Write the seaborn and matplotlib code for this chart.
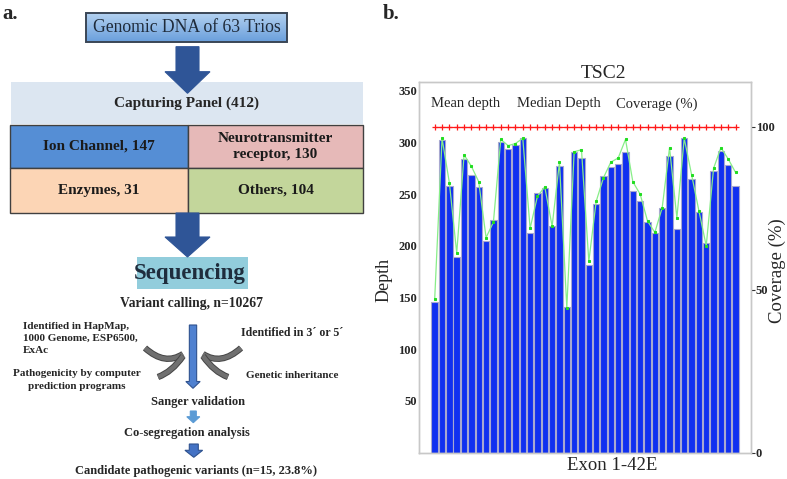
import numpy as np
import pandas as pd
import matplotlib
matplotlib.use("Agg")
import matplotlib.pyplot as plt
import matplotlib.patheffects as pe
from matplotlib.patches import Rectangle, Polygon, PathPatch
from matplotlib.path import Path
from matplotlib.colors import LinearSegmentedColormap
import seaborn as sns

# ---- data for panel b ----
exons = [f"E{i}" for i in range(1, 43)]
mean_depth = [146, 302, 258, 189, 284, 269, 257, 205, 225, 300, 294, 298, 304, 212,
              251, 256, 219, 277, 141, 291, 285, 182, 241, 268, 276, 279, 291, 253,
              243, 223, 212, 237, 287, 216, 304, 265, 233, 203, 272, 292, 278, 258]
median_depth = [149, 304, 261, 193, 288, 277, 262, 208, 223, 303, 297, 299, 304, 217,
                248, 257, 219, 281, 140, 291, 293, 185, 243, 266, 281, 285, 303, 262,
                250, 224, 213, 237, 295, 227, 304, 269, 234, 200, 275, 295, 284, 271]
coverage = [100] * 42
depth_ticks = [50, 100, 150, 200, 250, 300, 350]
coverage_ticks = [0, 50, 100]
legend_labels = ["Mean depth", "Median Depth", "Coverage (%)"]

# ---- text for panel a ----
gene_groups = ["Ion Channel, 147", "Neurotransmitter\nreceptor, 130", "Enzymes, 31", "Others, 104"]
group_colors = ["#558ED5", "#E6B9B8", "#FCD5B5", "#C3D69B"]

sns.set_theme(style="white")
plt.rcParams['font.family'] = ['Liberation Serif', 'DejaVu Serif']

W, H = 787, 479
fig = plt.figure(figsize=(W / 100, H / 100), dpi=100)

# panel a drawn in pixel coordinates on a full-figure axes
axa = fig.add_axes([0, 0, 1, 1])
axa.set_xlim(0, W)
axa.set_ylim(H, 0)
axa.axis("off")


def block_arrow(ax, xc, y0, y1, shaft_w, head_w, head_len, color, edge=None):
    yh = y1 - head_len
    pts = [(xc - shaft_w / 2, y0), (xc + shaft_w / 2, y0), (xc + shaft_w / 2, yh),
           (xc + head_w / 2, yh), (xc, y1), (xc - head_w / 2, yh), (xc - shaft_w / 2, yh)]
    ax.add_patch(Polygon(pts, closed=True, facecolor=color,
                         edgecolor=edge or color, lw=0.8, zorder=4))


def curve(ax, p0, p1, p2):
    path = Path([p0, p1, p2], [Path.MOVETO, Path.CURVE3, Path.CURVE3])
    patch = PathPatch(path, facecolor="none", edgecolor="#707070", lw=3.2,
                      capstyle="butt", zorder=3)
    patch.set_path_effects([pe.Stroke(linewidth=4.6, foreground="#454545"), pe.Normal()])
    ax.add_patch(patch)


axa.text(2, 14, "a.", fontsize=15, fontweight="bold", va="center")
axa.text(383, 14, "b.", fontsize=15, fontweight="bold", va="center")

# top box with gradient
grad = LinearSegmentedColormap.from_list("g", ["#B3D1F0", "#6A9FDC"])
axa.imshow(np.linspace(0, 1, 60).reshape(-1, 1), cmap=grad, aspect="auto",
           extent=[86, 287, 42, 13], zorder=2)
axa.add_patch(Rectangle((86, 13), 201, 29, fill=False, edgecolor="#3A4656", lw=1.4, zorder=3))
axa.text(186.5, 27.5, "Genomic DNA of 63 Trios", fontsize=12.7, color="#1F2B3A",
         ha="center", va="center", zorder=4)

block_arrow(axa, 187.5, 46.7, 93.3, 23, 45, 21.6, "#2F5597")

axa.add_patch(Rectangle((11, 82), 352, 42, facecolor="#DCE6F1", edgecolor="none", zorder=1))
axa.text(187, 103, "Capturing Panel (412)", fontsize=11, fontweight="bold",
         ha="center", va="center", zorder=4)

cells = [(10, 125, 178, 43), (188, 125, 175, 43), (10, 168, 178, 45), (188, 168, 175, 45)]
for (x0, y0, w, h), lab, col in zip(cells, gene_groups, group_colors):
    axa.add_patch(Rectangle((x0, y0), w, h, facecolor=col, edgecolor="#404040", lw=1, zorder=2))
    axa.text(x0 + w / 2, y0 + h / 2, lab, fontsize=11, fontweight="bold", ha="center",
             va="center", linespacing=1.3, color="#1A1A1A", zorder=4)

block_arrow(axa, 187.5, 213, 257, 23, 45, 20, "#2F5597")

axa.add_patch(Rectangle((137, 257), 111, 32, facecolor="#92CDDC", edgecolor="none", zorder=1))
axa.text(190, 273.5, "Sequencing", fontsize=16.5, fontweight="bold", color="#1F2D3D",
         ha="center", va="center", zorder=4)
axa.text(192, 303.5, "Variant calling, n=10267", fontsize=9.8, fontweight="bold",
         ha="center", va="center")

block_arrow(axa, 193, 325, 388.3, 7.3, 14.3, 6.8, "#4F81D0", edge="#2F528F")
curve(axa, (145, 348), (165, 366), (183, 354))
curve(axa, (183, 356), (172, 372), (158, 377))
curve(axa, (241, 348), (221, 366), (203, 354))
curve(axa, (203, 356), (214, 372), (228, 377))

axa.text(23, 322, "Identified in HapMap,\n1000 Genome, ESP6500,\nExAc", fontsize=8,
         fontweight="bold", ha="left", va="top", linespacing=1.4)
axa.text(77, 380, "Pathogenicity by computer\nprediction programs", fontsize=8,
         fontweight="bold", ha="center", va="center", linespacing=1.5)
axa.text(292, 333.5, "Identified in 3\u00b4 or 5\u00b4", fontsize=8.6, fontweight="bold",
         ha="center", va="center")
axa.text(292.5, 375.7, "Genetic inheritance", fontsize=8, fontweight="bold",
         ha="center", va="center")

axa.text(198, 402.3, "Sanger validation", fontsize=9, fontweight="bold", ha="center", va="center")
block_arrow(axa, 193.3, 411, 422.7, 6, 13, 6, "#5B9BD5")
axa.text(187, 433.3, "Co-segregation analysis", fontsize=9, fontweight="bold",
         ha="center", va="center")
block_arrow(axa, 193.8, 444, 457.3, 9, 17.7, 7, "#4472C4", edge="#2F528F")
axa.text(196, 470.7, "Candidate pathogenic variants (n=15, 23.8%)", fontsize=9,
         fontweight="bold", ha="center", va="center")

axa.set_xlim(0, W)
axa.set_ylim(H, 0)

# ---- panel b: TSC2 depth per exon ----
df = pd.DataFrame({"exon": exons, "pos": np.arange(len(exons)),
                   "mean_depth": mean_depth, "median_depth": median_depth,
                   "coverage": coverage})

ax = fig.add_axes([419.3 / W, (H - 452.7) / H, 331.7 / W, 371 / H])
sns.barplot(data=df, x="pos", y="mean_depth", native_scale=True, width=0.88,
            color="#1030F0", saturation=1, edgecolor="#A8A8D0", linewidth=0.8,
            errorbar=None, ax=ax)
sns.lineplot(data=df, x="pos", y="median_depth", ax=ax, color="#88EE88", lw=0.9,
             marker="s", markersize=2, markerfacecolor="#22DD22",
             markeredgecolor="#22DD22")
ax.set_xlim(-2.1, 43.1)
ax.set_ylim(0, 358.8)
ax.set_xticks([])
ax.set_yticks(depth_ticks)
ax.set_yticklabels([str(t) for t in depth_ticks], fontweight="bold")
ax.tick_params(axis="y", length=0, pad=1.5, labelsize=9)
ax.set_xlabel("Exon 1-42E", fontsize=13.5)
ax.xaxis.set_label_coords(0.5825, -0.012)
ax.set_ylabel("Depth", fontsize=13)
ax.yaxis.set_label_coords(-0.082, 0.4655)
ax.set_title("TSC2", fontsize=14, x=0.555, pad=3)
for sp in ax.spines.values():
    sp.set_color("#C8C8C8")
    sp.set_linewidth(1)

for lab, xpos in zip(legend_labels, [0.0344, 0.2936, 0.592]):
    ax.text(xpos, 0.94, lab, transform=ax.transAxes, fontsize=10.5, va="center")

ax2 = ax.twinx()
sns.lineplot(data=df, x="pos", y="coverage", ax=ax2, color="#FF1A1A", lw=0.9,
             marker="+", markersize=4.5, markeredgewidth=0.9,
             markeredgecolor="#FF1A1A")
ax2.set_ylim(0, 113.8)
ax2.set_yticks(coverage_ticks)
ax2.set_yticklabels([str(t) for t in coverage_ticks], fontweight="bold")
ax2.yaxis.tick_right()
ax2.tick_params(axis="y", right=True, length=3, width=0.8, color="#333333", pad=0.5,
                labelsize=9, direction="out")
ax2.set_ylabel("Coverage (%)", fontsize=13.5)
ax2.yaxis.set_label_coords(1.054, 0.492)
for sp in ax2.spines.values():
    sp.set_color("#C8C8C8")
    sp.set_linewidth(1)

fig.savefig("out.png", dpi=100)
